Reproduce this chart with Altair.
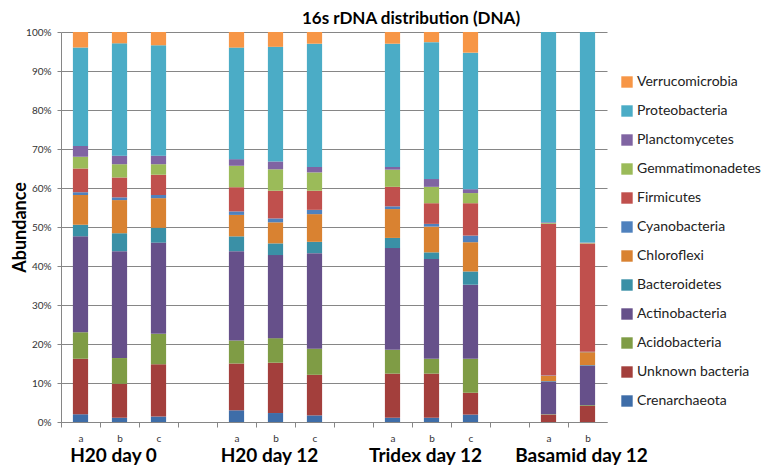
import altair as alt
import pandas as pd

# Taxa, bottom of the stack first
taxa = ["Crenarchaeota", "Unknown bacteria", "Acidobacteria", "Actinobacteria",
        "Bacteroidetes", "Chloroflexi", "Cyanobacteria", "Firmicutes",
        "Gemmatimonadetes", "Planctomycetes", "Proteobacteria", "Verrucomicrobia"]
taxa_colors = ["#3E6DA8", "#A33F3C", "#7F9C45", "#66508A",
               "#3A90A6", "#D98231", "#4F81BD", "#C0504D",
               "#9BBB59", "#8064A2", "#4BACC6", "#F79646"]

# Percent abundance per sample, in the taxa order above
h20_d0_a = [2.0, 14.2, 6.8, 24.6, 3.0, 7.6, 0.7, 6.1, 3.0, 2.8, 25.2, 4.0]
h20_d0_b = [1.1, 8.7, 6.6, 27.4, 4.6, 8.5, 0.7, 5.1, 3.4, 2.2, 28.8, 2.9]
h20_d0_c = [1.4, 13.4, 7.8, 23.4, 3.8, 7.6, 0.8, 5.2, 2.7, 2.2, 28.3, 3.4]
h20_d12_a = [3.0, 12.0, 5.9, 22.9, 3.8, 5.5, 0.9, 6.2, 5.5, 1.7, 28.6, 4.0]
h20_d12_b = [2.3, 12.9, 6.3, 21.3, 3.0, 5.4, 1.0, 7.1, 5.5, 2.0, 29.4, 3.8]
h20_d12_c = [1.7, 10.4, 6.7, 24.5, 2.9, 7.1, 1.1, 4.9, 4.7, 1.4, 31.6, 3.0]
tridex_a = [1.1, 11.3, 6.1, 26.1, 2.6, 7.4, 0.7, 5.0, 4.4, 0.7, 31.6, 3.0]
tridex_b = [1.1, 11.3, 3.8, 25.6, 1.7, 6.6, 0.7, 5.3, 4.2, 2.0, 35.1, 2.6]
tridex_c = [1.9, 5.6, 8.7, 19.0, 3.4, 7.5, 1.7, 8.3, 2.6, 1.0, 35.0, 5.3]
basamid_a = [0.0, 1.9, 0.1, 8.4, 0.1, 1.3, 0.1, 38.9, 0.2, 0.2, 48.8, 0.0]
basamid_b = [0.0, 4.1, 0.2, 10.2, 0.1, 3.3, 0.1, 27.8, 0.1, 0.1, 54.0, 0.0]

samples = {
    "H20 day 0 a": h20_d0_a, "H20 day 0 b": h20_d0_b, "H20 day 0 c": h20_d0_c,
    "H20 day 12 a": h20_d12_a, "H20 day 12 b": h20_d12_b, "H20 day 12 c": h20_d12_c,
    "Tridex day 12 a": tridex_a, "Tridex day 12 b": tridex_b, "Tridex day 12 c": tridex_c,
    "Basamid day 12 a": basamid_a, "Basamid day 12 b": basamid_b,
}
# x slots, with empty gap slots between the groups
slots = ["H20 day 0 a", "H20 day 0 b", "H20 day 0 c", "gap1",
         "H20 day 12 a", "H20 day 12 b", "H20 day 12 c", "gap2",
         "Tridex day 12 a", "Tridex day 12 b", "Tridex day 12 c", "gap3",
         "Basamid day 12 a", "Basamid day 12 b"]
groups = ["H20 day 0", "H20 day 12", "Tridex day 12", "Basamid day 12"]
group_anchor = ["H20 day 0 b", "H20 day 12 b", "Tridex day 12 b", "Basamid day 12 b"]

rows = []
for s, vals in samples.items():
    for i, (t, v) in enumerate(zip(taxa, vals)):
        rows.append({"slot": s, "taxon": t, "idx": i, "value": v})
df = pd.DataFrame(rows)
gdf = pd.DataFrame({"slot": group_anchor, "group": groups})

FONT = "Lato"
GRAY = "#868686"
W, H = 546, 390
STEP = W / len(slots)

xenc = alt.X("slot:N",
             scale=alt.Scale(domain=slots, paddingInner=0.61, paddingOuter=0.305),
             axis=alt.Axis(title=None, labelAngle=0,
                           labelExpr="indexof(datum.value, 'gap') >= 0 ? '' : slice(datum.value, -1)",
                           labelFont=FONT, labelFontSize=10, labelColor="#333333",
                           labelPadding=6, tickSize=5, tickColor=GRAY, domainColor=GRAY,
                           tickOffset=-STEP / 2, labelOffset=STEP / 2))

bars = alt.Chart(df).mark_bar().encode(
    x=xenc,
    y=alt.Y("value:Q", stack="normalize",
            axis=alt.Axis(title="Abundance", format=".0%",
                          values=[i / 10 for i in range(11)],
                          titleFont=FONT, titleFontSize=18, titleFontWeight="bold",
                          titleColor="#000000", titleX=-41, titleY=H / 2,
                          titleAlign="center", titleBaseline="middle", titleAngle=270,
                          labelFont=FONT, labelFontSize=10, labelColor="#333333",
                          labelPadding=6, tickSize=4, tickColor=GRAY,
                          domainColor=GRAY, grid=True, gridColor=GRAY, gridWidth=1)),
    color=alt.Color("taxon:N",
                    scale=alt.Scale(domain=taxa[::-1], range=taxa_colors[::-1]),
                    legend=alt.Legend(orient="none", legendX=559, legendY=43, title=None,
                                      symbolType="square", symbolSize=130,
                                      labelFont=FONT,
                                      labelFontSize=14, labelColor="#222222",
                                      labelOffset=3, rowPadding=15)),
    order=alt.Order("idx:Q", sort="ascending"),
)

labels = alt.Chart(gdf).mark_text(
    font=FONT, fontSize=19, fontWeight="bold", color="#000000",
    baseline="alphabetic", dx=-6
).encode(
    x=xenc,
    y=alt.value(430),
    text="group:N",
)

chart = alt.layer(bars, labels).properties(
    width=W, height=H,
    title=alt.Title("16s rDNA distribution (DNA)", font=FONT, fontSize=17,
                    fontWeight="bold", color="#000000", dx=77, dy=2, offset=1),
    autosize=alt.AutoSizeParams(type="none"),
    padding={"left": 53, "top": 24, "right": 162, "bottom": 45},
).configure_view(stroke=None)

chart.save("out.html", embed_options={"renderer": "svg", "actions": False})
